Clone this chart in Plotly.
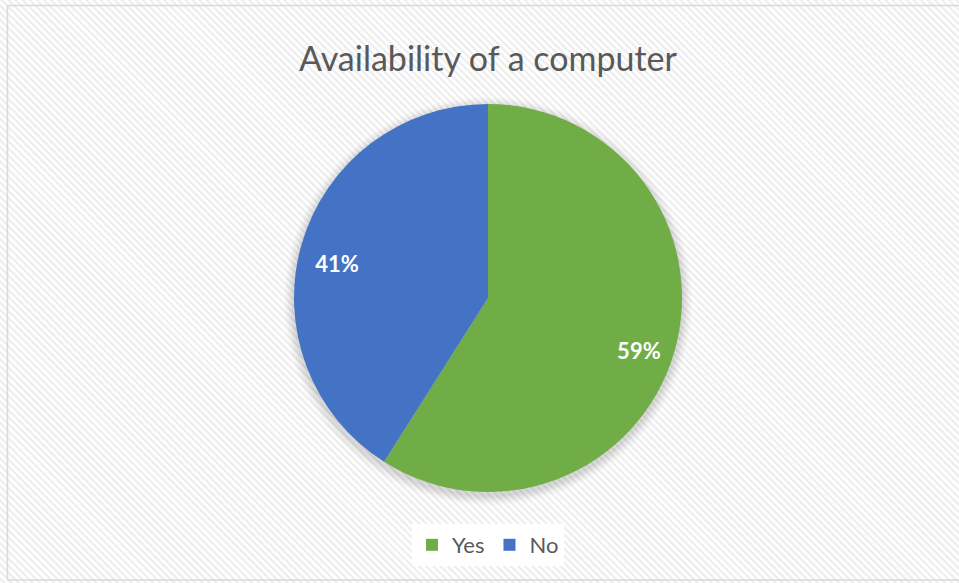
import base64
import plotly.graph_objects as go

# ---- data ----
title_text = "Availability of a computer"
categories = ["Yes", "No"]
values = [59, 41]
colors = ["#70AD47", "#4472C4"]

W, H = 959, 583

# background hatching (decoration)
svg = f'''<svg xmlns="http://www.w3.org/2000/svg" width="{W}" height="{H}">
<defs><pattern id="p" patternUnits="userSpaceOnUse" width="5" height="5" patternTransform="rotate(-45)">
<rect x="0" y="0" width="2.2" height="5" fill="#ededed"/></pattern></defs>
<rect width="{W}" height="{H}" fill="#ffffff"/>
<rect width="{W}" height="{H}" fill="url(#p)"/>
</svg>'''
bg_uri = "data:image/svg+xml;base64," + base64.b64encode(svg.encode()).decode()

cx, cy, r = 488, 298, 194
dom_x = [(cx - r) / W, (cx + r) / W]
dom_y = [1 - (cy + r) / H, 1 - (cy - r) / H]
lab_dy = 9  # labels sit slightly lower in the reference
dom_y_lab = [1 - (cy + lab_dy + r) / H, 1 - (cy + lab_dy - r) / H]

fig = go.Figure()
fig.add_trace(go.Pie(
    labels=categories, values=values, sort=False, direction="clockwise", rotation=0,
    marker=dict(colors=colors, line=dict(width=0)),
    textinfo="none",
    domain=dict(x=dom_x, y=dom_y), hoverinfo="label+percent",
))
# transparent ring carrying the percentage labels (places them at ~0.8 R)
fig.add_trace(go.Pie(
    labels=categories, values=values, sort=False, direction="clockwise", rotation=0,
    hole=0.62, showlegend=False,
    marker=dict(colors=["rgba(0,0,0,0)"] * len(values), line=dict(width=0)),
    texttemplate="%{percent:.0%}", textposition="inside",
    insidetextorientation="horizontal",
    textfont=dict(family="Lato", size=22, color="white", weight="bold"),
    domain=dict(x=dom_x, y=dom_y_lab), hoverinfo="skip",
))

shapes = []
# soft shadow around pie
for k, a in [(10, 0.018), (8, 0.025), (6, 0.03), (4, 0.035), (2, 0.04)]:
    shapes.append(dict(type="circle", xref="paper", yref="paper", xsizemode="pixel", ysizemode="pixel",
                       xanchor=cx / W, yanchor=1 - (cy + 3) / H,
                       x0=-(r + k), x1=r + k, y0=-(r + k), y1=r + k,
                       fillcolor=f"rgba(0,0,0,{a})", line=dict(width=0), layer="below"))
# chart border
shapes.append(dict(type="rect", xref="paper", yref="paper",
                   x0=7.5 / W, x1=1.01, y0=1 - 580 / H, y1=1 - 5.5 / H,
                   line=dict(color="#d9d9d9", width=1.5), fillcolor="rgba(0,0,0,0)", layer="above"))

fig.update_layout(
    width=W, height=H, margin=dict(l=0, r=0, t=0, b=0),
    paper_bgcolor="white",
    images=[dict(source=bg_uri, xref="paper", yref="paper", x=0, y=1, sizex=1, sizey=1,
                 sizing="stretch", xanchor="left", yanchor="top", layer="below")],
    shapes=shapes,
    title=dict(text=title_text, x=488 / W, xanchor="center", y=1 - 59 / H, yanchor="middle",
               font=dict(family="Lato", size=34, color="#595959")),
    showlegend=True,
    legend=dict(orientation="h", x=488 / W, xanchor="center", y=1 - 545 / H, yanchor="middle",
                bgcolor="white", font=dict(family="Lato", size=22, color="#595959"),
                itemsizing="constant", itemwidth=30, traceorder="normal"),
)

fig.write_html("out.html")
